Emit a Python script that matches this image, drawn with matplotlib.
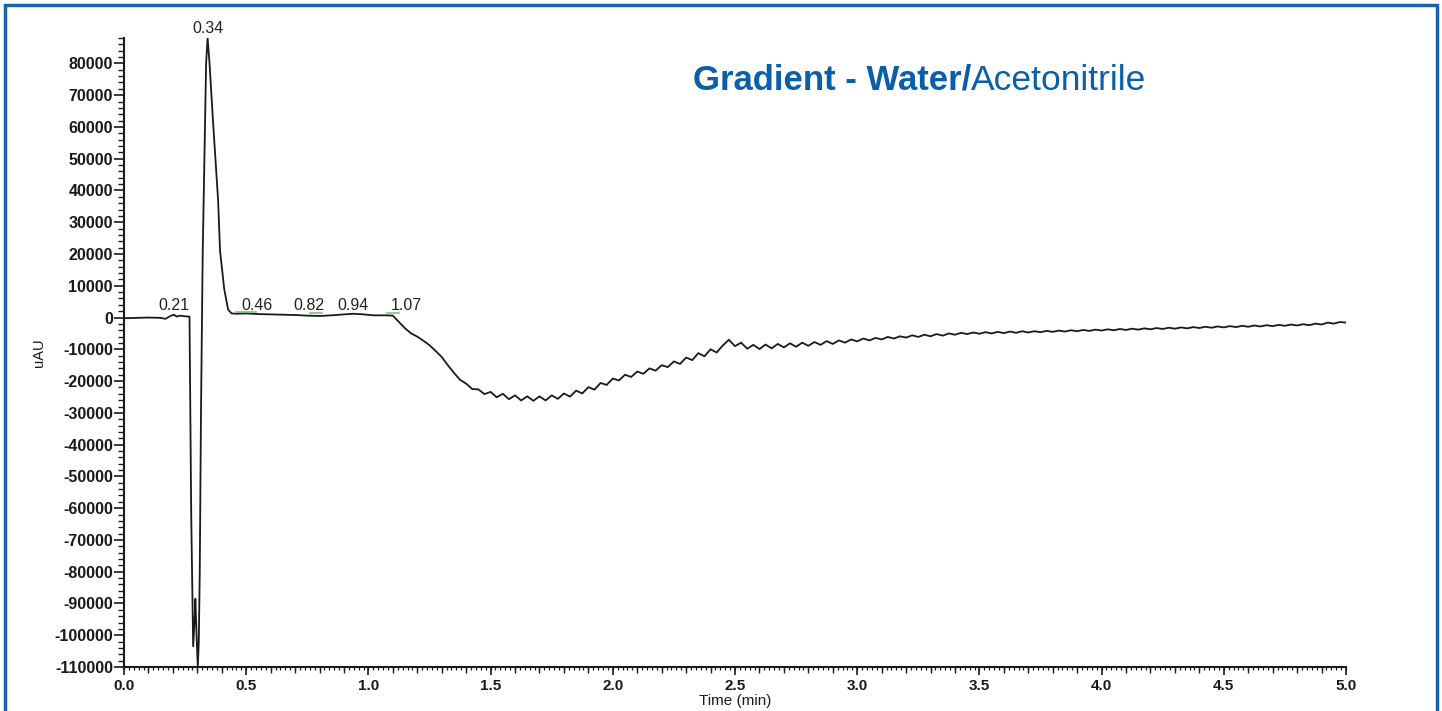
import matplotlib
matplotlib.use("Agg")
import matplotlib.pyplot as plt
from matplotlib.patches import Rectangle
from matplotlib.ticker import MultipleLocator, FixedLocator

plt.rcParams['font.family'] = ['Liberation Sans', 'DejaVu Sans']

# ---- data ----
time_early = [0.00, 0.05, 0.10, 0.15, 0.17, 0.19, 0.205, 0.215, 0.23, 0.25, 0.268,
              0.275, 0.283, 0.289, 0.292, 0.297, 0.302, 0.306, 0.310, 0.315, 0.322,
              0.330, 0.336, 0.342, 0.350, 0.364, 0.385, 0.393, 0.410, 0.426, 0.440,
              0.46, 0.50, 0.55, 0.60, 0.65, 0.70, 0.75, 0.80, 0.85, 0.90, 0.94,
              0.98, 1.02, 1.07]
signal_early = [-200, -100, 0, -100, -400, 500, 900, 300, 600, 400, 300,
                -62000, -103500, -95000, -88500, -100000, -110000, -102000, -80000, -30000, 20000,
                55000, 80000, 88000, 80000, 62000, 37000, 21000, 9000, 2500, 1300,
                1200, 1300, 1100, 1000, 900, 800, 600, 500, 700, 1000, 1200,
                1000, 700, 700]

time_late = [1.100, 1.125, 1.150, 1.175, 1.200, 1.225, 1.250, 1.275, 1.300, 1.325,
             1.350, 1.375, 1.400, 1.425, 1.450, 1.475, 1.500, 1.525, 1.550, 1.575,
             1.600, 1.625, 1.650, 1.675, 1.700, 1.725, 1.750, 1.775, 1.800, 1.825,
             1.850, 1.875, 1.900, 1.925, 1.950, 1.975, 2.000, 2.025, 2.050, 2.075,
             2.100, 2.125, 2.150, 2.175, 2.200, 2.225, 2.250, 2.275, 2.300, 2.325,
             2.350, 2.375, 2.400, 2.425, 2.450, 2.475, 2.500, 2.525, 2.550, 2.575,
             2.600, 2.625, 2.650, 2.675, 2.700, 2.725, 2.750, 2.775, 2.800, 2.825,
             2.850, 2.875, 2.900, 2.925, 2.950, 2.975, 3.000, 3.025, 3.050, 3.075,
             3.100, 3.125, 3.150, 3.175, 3.200, 3.225, 3.250, 3.275, 3.300, 3.325,
             3.350, 3.375, 3.400, 3.425, 3.450, 3.475, 3.500, 3.525, 3.550, 3.575,
             3.600, 3.625, 3.650, 3.675, 3.700, 3.725, 3.750, 3.775, 3.800, 3.825,
             3.850, 3.875, 3.900, 3.925, 3.950, 3.975, 4.000, 4.025, 4.050, 4.075,
             4.100, 4.125, 4.150, 4.175, 4.200, 4.225, 4.250, 4.275, 4.300, 4.325,
             4.350, 4.375, 4.400, 4.425, 4.450, 4.475, 4.500, 4.525, 4.550, 4.575,
             4.600, 4.625, 4.650, 4.675, 4.700, 4.725, 4.750, 4.775, 4.800, 4.825,
             4.850, 4.875, 4.900, 4.925, 4.950, 4.975, 5.000]
signal_late = [600, -1400, -3400, -5000, -6000, -7300, -8700, -10500, -12400, -15000,
               -17400, -19600, -20800, -22500, -22600, -24100, -23400, -25100, -24000, -25700,
               -24500, -26100, -24800, -26200, -24800, -26100, -24500, -25600, -23900, -24900,
               -23000, -23900, -21900, -22700, -20600, -21200, -19200, -19800, -18000, -18700,
               -17000, -17700, -16000, -16700, -15000, -15600, -13800, -14600, -12600, -13400,
               -11200, -12200, -10000, -11000, -8800, -7000, -9000, -7900, -9800, -8600,
               -9900, -8500, -9700, -8300, -9400, -8100, -9200, -7900, -8900, -7700,
               -8600, -7400, -8300, -7200, -7900, -6900, -7500, -6600, -7200, -6400,
               -6900, -6100, -6600, -5900, -6300, -5600, -6100, -5400, -5900, -5200,
               -5700, -5000, -5400, -4800, -5200, -4700, -5100, -4600, -5000, -4500,
               -4900, -4400, -4800, -4300, -4700, -4300, -4600, -4200, -4500, -4100,
               -4400, -4000, -4300, -3900, -4200, -3800, -4100, -3700, -4000, -3600,
               -3900, -3500, -3800, -3400, -3700, -3300, -3600, -3200, -3500, -3100,
               -3400, -3000, -3300, -2900, -3200, -2800, -3100, -2700, -3000, -2600,
               -2900, -2500, -2800, -2400, -2700, -2300, -2600, -2200, -2500, -2100,
               -2400, -1900, -2200, -1600, -1900, -1400, -1600]

peak_labels = ["0.21", "0.34", "0.46", "0.82", "0.94", "1.07"]
label_x = [0.205, 0.342, 0.545, 0.755, 0.935, 1.155]
label_y = [1500, 88500, 1500, 1500, 1500, 1500]

# baseline markers (start, end, level)
marker_start = [0.46, 0.76, 1.075]
marker_end = [0.54, 0.81, 1.125]
marker_level = [1800, 1300, 1500]

y_ticks = list(range(-110000, 80001, 10000))
x_ticks = [0.0, 0.5, 1.0, 1.5, 2.0, 2.5, 3.0, 3.5, 4.0, 4.5, 5.0]

title_bold = "Gradient - Water/"
title_normal = "Acetonitrile"

# ---- figure ----
fig = plt.figure(figsize=(14.42, 7.11), dpi=100)
ax = fig.add_axes([124 / 1442, 44 / 711, (1346 - 124) / 1442, (667 - 38) / 711])

times = time_early + time_late
signal = signal_early + signal_late
ax.plot(times, signal, color='#1a1a1a', lw=1.3, solid_joinstyle='round')

for s, e, lvl in zip(marker_start, marker_end, marker_level):
    ax.plot([s, e], [lvl, lvl], color='#7cc47c', lw=1.2)

for lab, lx, ly in zip(peak_labels, label_x, label_y):
    ax.text(lx, ly, lab, ha='center', va='bottom', fontsize=11.5, color='#222222')

ax.set_xlim(0, 5.0)
ax.set_ylim(-110000, 88000)
ax.spines['top'].set_visible(False)
ax.spines['right'].set_visible(False)
for sp in ('left', 'bottom'):
    ax.spines[sp].set_linewidth(1.5)
    ax.spines[sp].set_color('#1a1a1a')

ax.yaxis.set_major_locator(FixedLocator(y_ticks))
ax.yaxis.set_minor_locator(MultipleLocator(2000))
ax.set_yticklabels([str(v) for v in y_ticks])
ax.tick_params(axis='y', which='major', length=7, width=1.2, labelsize=11.5, pad=1, colors='#1a1a1a')
ax.tick_params(axis='y', which='minor', length=4.5, width=1.0, colors='#1a1a1a')
for lbl in ax.get_yticklabels():
    lbl.set_fontweight('bold')

ax.xaxis.set_major_locator(FixedLocator(x_ticks))
ax.xaxis.set_minor_locator(MultipleLocator(0.1))
ax.set_xticklabels([f"{v:.1f}" for v in x_ticks])
ax.tick_params(axis='x', which='major', length=6, width=1.2, labelsize=11, pad=3, colors='#1a1a1a')
ax.tick_params(axis='x', which='minor', length=4, width=1.0, colors='#1a1a1a')
for lbl in ax.get_xticklabels():
    lbl.set_fontweight('bold')

sec = ax.secondary_xaxis('bottom')
sec.xaxis.set_major_locator(MultipleLocator(0.02))
sec.tick_params(axis='x', which='major', length=2.5, width=0.9, labelbottom=False, colors='#1a1a1a')
sec.spines['bottom'].set_visible(False)

ax.set_xlabel("Time (min)", fontsize=11, labelpad=0, color='#1a1a1a')
ax.set_ylabel("uAU", fontsize=10.5, labelpad=6, color='#1a1a1a')

# title
t1 = fig.text(693 / 1442, 1 - 80 / 711, title_bold, fontsize=25, fontweight='bold',
              color='#0b5ea8', ha='left', va='center')
fig.canvas.draw()
bb = t1.get_window_extent(renderer=fig.canvas.get_renderer())
fig.text(bb.x1 / fig.bbox.width, 1 - 80 / 711, title_normal, fontsize=25.5,
         color='#0b5ea8', ha='left', va='center')

# blue frame
fig.patches.append(Rectangle((5 / 1442, -0.02), (1437 - 5) / 1442, 1.02 - 5 / 711,
                             transform=fig.transFigure, fill=False,
                             edgecolor='#1a63ad', lw=2.5))

fig.savefig("out.png", dpi=100)
